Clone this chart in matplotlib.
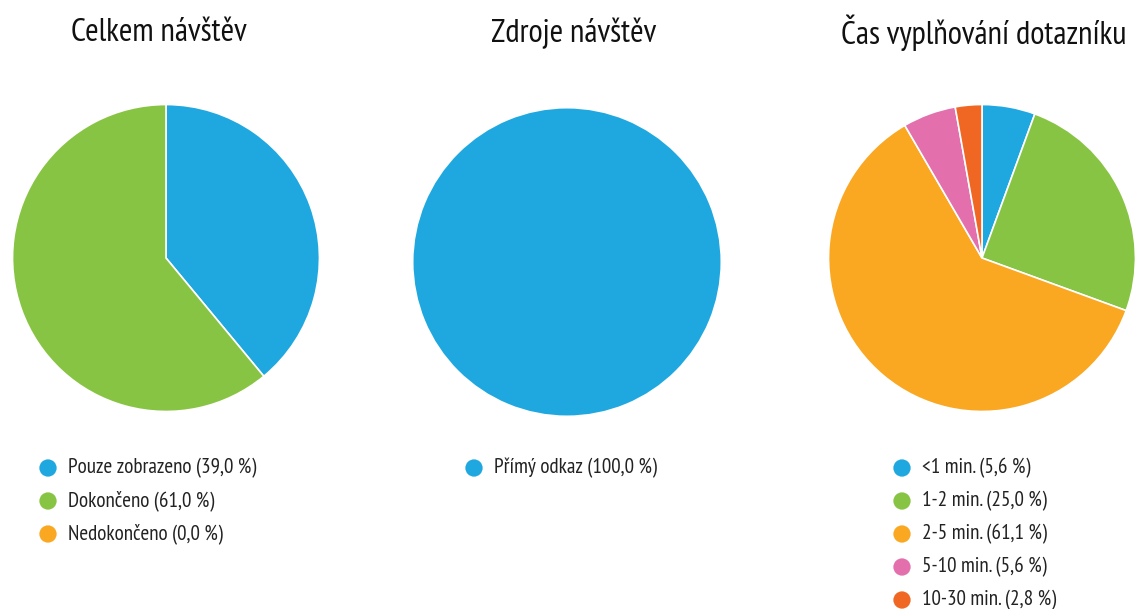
import matplotlib
matplotlib.use("Agg")
import matplotlib.pyplot as plt
from matplotlib import font_manager

W, H = 1137, 609
names = {f.name for f in font_manager.fontManager.ttflist}
cands = ['PT Sans Narrow', 'Ubuntu Condensed', 'Roboto Condensed', 'Open Sans Condensed',
         'Archivo Narrow', 'Liberation Sans Narrow', 'Liberation Sans']
fams = [c for c in cands if c in names][:1] + ['DejaVu Sans']
plt.rcParams['font.family'] = fams

titles = ["Celkem návštěv", "Zdroje návštěv", "Čas vyplňování dotazníku"]

labels1 = ["Pouze zobrazeno", "Dokončeno", "Nedokončeno"]
values1 = [39.0, 61.0, 0.0]
colors1 = ["#1fa8e0", "#88c443", "#faa722"]

labels2 = ["Přímý odkaz"]
values2 = [100.0]
colors2 = ["#1fa8e0"]

labels3 = ["<1 min.", "1-2 min.", "2-5 min.", "5-10 min.", "10-30 min."]
values3 = [5.6, 25.0, 61.1, 5.6, 2.8]
colors3 = ["#1fa8e0", "#88c443", "#faa722", "#e36fad", "#f06724"]

fig = plt.figure(figsize=(W / 100, H / 100), dpi=100)
fig.patch.set_facecolor("white")

centers = [(166, 258), (567, 262), (982, 258)]
R = 155
legend_x = [48, 474, 902]
legend_y0 = 468
legend_dy = 33
title_x = [159, 574, 984]

datasets = [(labels1, values1, colors1), (labels2, values2, colors2), (labels3, values3, colors3)]

for i, (labs, vals, cols) in enumerate(datasets):
    cx, cy = centers[i]
    ax = fig.add_axes([(cx - R) / W, (H - cy - R) / H, 2 * R / W, 2 * R / H])
    nz = [(v, c) for v, c in zip(vals, cols) if v > 0]
    ax.pie([v for v, c in nz], colors=[c for v, c in nz], startangle=90, counterclock=False,
           radius=1.0, wedgeprops=dict(edgecolor="white", linewidth=1.2 if len(nz) > 1 else 0))
    ax.set_xlim(-1.01, 1.01)
    ax.set_ylim(-1.01, 1.01)
    ax.set_aspect("equal")
    ax.axis("off")
    fig.text(title_x[i] / W, 1 - 33 / H, titles[i], ha="center", va="center",
             fontsize=23.5, color="#111111")

lax = fig.add_axes([0, 0, 1, 1])
lax.set_xlim(0, W)
lax.set_ylim(H, 0)
lax.axis("off")
for i, (labs, vals, cols) in enumerate(datasets):
    for j, (lab, v, c) in enumerate(zip(labs, vals, cols)):
        y = legend_y0 + j * legend_dy
        lax.scatter([legend_x[i]], [y], s=155, color=c, edgecolors="none")
        txt = f"{lab} ({('%.1f' % v).replace('.', ',')} %)"
        lax.text(legend_x[i] + 20, y, txt, ha="left", va="center", fontsize=15.2, color="#222222")

fig.savefig("out.png", dpi=100, facecolor="white")
